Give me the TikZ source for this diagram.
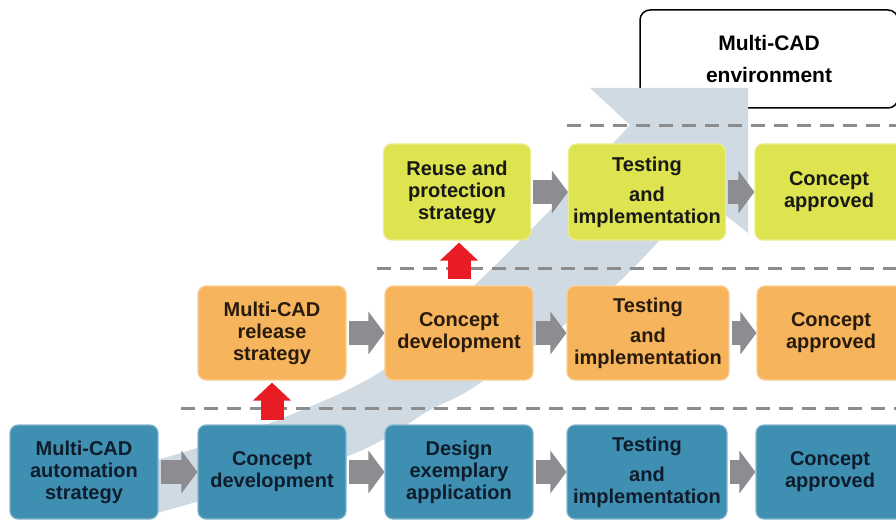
\documentclass[tikz,border=0pt]{standalone}
\usepackage{fontspec}
\setmainfont{Liberation Sans}
\usetikzlibrary{arrows.meta}

\definecolor{bandgray}{RGB}{207,218,226}
\definecolor{boxblue}{RGB}{62,143,177}
\definecolor{boxorange}{RGB}{246,180,92}
\definecolor{boxyellow}{RGB}{222,227,80}
\definecolor{inkblue}{RGB}{14,28,44}
\definecolor{inkbrown}{RGB}{40,26,12}
\definecolor{inkdark}{RGB}{24,24,20}
\definecolor{arrowgray}{RGB}{140,140,145}
\definecolor{dashgray}{RGB}{140,140,140}
\definecolor{liftred}{RGB}{232,28,36}

\begin{document}
\begin{tikzpicture}[x=1pt,y=-1pt,
  box/.style={rounded corners=8pt, inner sep=2pt, align=center,
    font=\bfseries\fontsize{20}{22}\selectfont, line width=1.2pt,
    minimum width=148pt, minimum height=94pt},
  bluebox/.style={box, fill=boxblue, draw=boxblue!65!white, text=inkblue},
  orangebox/.style={box, fill=boxorange, draw=boxorange!65!white, text=inkbrown},
  yellowbox/.style={box, fill=boxyellow, draw=boxyellow!65!white, text=inkdark},
  envbox/.style={draw=black, line width=1.5pt, fill=white, rounded corners=10pt,
    minimum width=258pt, minimum height=98pt, align=center,
    font=\bfseries\fontsize{21}{32}\selectfont},
  flow/.style={draw=arrowgray, line width=24pt,
    -{Triangle[width=42pt,length=16pt]}, shorten <=2pt},
  lift/.style={draw=liftred, line width=23pt,
    -{Triangle[width=37pt,length=18pt]}},
  divider/.style={draw=dashgray, line width=3pt, dash pattern=on 14pt off 9pt},
]
\useasboundingbox (0,0) rectangle (896,521);
\clip (0,0) rectangle (896,521);

% environment label box, partly hidden behind the rising band
\node[envbox] (env) at (769,59) {Multi-CAD\\environment};

% broad rising band behind the process rows
\fill[bandgray] (150,515)
  -- plot[smooth] coordinates {(150,515) (348,456) (430,410) (477,385) (610,290) (700,195)}
  -- (748,233) -- (748,88) -- (590,88)
  -- plot[smooth] coordinates {(630,125) (560,200) (477,283) (383,370) (283,418) (200,447) (150,462)}
  -- cycle;

% level dividers
\draw[divider] (567,126) -- (896,126);
\draw[divider] (377,268) -- (896,268);
\draw[divider] (181,408) -- (896,408);

% bottom level
\node[bluebox] (b1) at (84,472) {Multi-CAD\\automation\\strategy};
\node[bluebox] (b2) at (272,472) {Concept\\development};
\node[bluebox] (b3) at (459,472) {Design\\exemplary\\application};
\node[bluebox, minimum width=160pt] (b4) at (647,472) {Testing\\[8pt]and\\implementation};
\node[bluebox] (b5) at (830,472) {Concept\\approved};

% middle level
\node[orangebox] (o1) at (272,333) {Multi-CAD\\release\\strategy};
\node[orangebox] (o2) at (459,333) {Concept\\development};
\node[orangebox, minimum width=162pt] (o3) at (648,333) {Testing\\[8pt]and\\implementation};
\node[orangebox] (o4) at (831,333) {Concept\\approved};

% top level
\node[yellowbox, minimum width=147pt, minimum height=96pt] (y1) at (457,192) {Reuse and\\protection\\strategy};
\node[yellowbox, minimum width=157pt, minimum height=96pt] (y2) at (647,192) {Testing\\[8pt]and\\implementation};
\node[yellowbox, minimum height=96pt] (y3) at (829,192) {Concept\\approved};

% flow within each level
\draw[flow] (b1.east) -- (b2.west);
\draw[flow] (b2.east) -- (b3.west);
\draw[flow] (b3.east) -- (b4.west);
\draw[flow] (b4.east) -- (b5.west);
\draw[flow] (o1.east) -- (o2.west);
\draw[flow] (o2.east) -- (o3.west);
\draw[flow] (o3.east) -- (o4.west);
\draw[flow] (y1.east) -- (y2.west);
\draw[flow] (y2.east) -- (y3.west);

% steps up to the next level
\draw[lift, shorten <=4pt, shorten >=2pt] (b2.north) -- (o1.south);
\draw[lift, shorten <=6pt, shorten >=2pt] (o2.north) -- (o2.north |- y1.south);
\end{tikzpicture}
\end{document}
